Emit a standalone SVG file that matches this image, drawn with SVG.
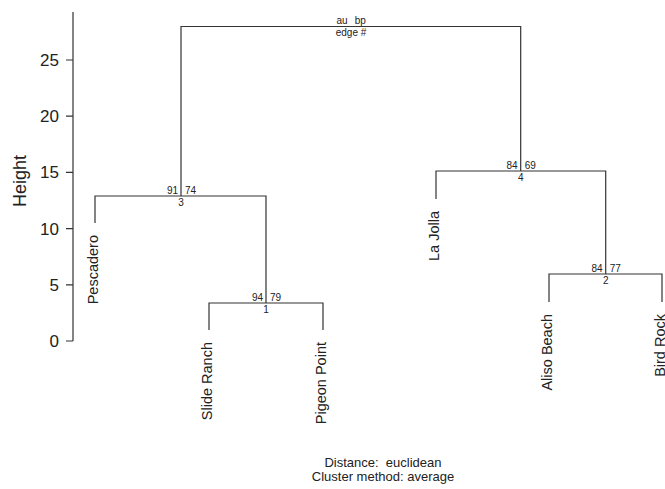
<svg xmlns="http://www.w3.org/2000/svg" width="665" height="489" viewBox="0 0 665 489">
<style>
.ln{stroke:#333;stroke-width:1.2;fill:none}
text{font-family:"Liberation Sans",Arial,sans-serif;fill:#222}
.tk{font-size:17px;text-anchor:end}
.lf{font-size:14.5px;text-anchor:end}
.nm{font-size:10px}
.ft{font-size:13px;text-anchor:middle;white-space:pre}
</style>
<rect width="665" height="489" fill="#fff"/>
<g id="axis">
<path class="ln" d="M73,12V341M66,341H73M66,284.8H73M66,228.6H73M66,172.4H73M66,116.2H73M66,60H73"/>
<text class="tk" x="59" y="347">0</text>
<text class="tk" x="59" y="290.8">5</text>
<text class="tk" x="59" y="234.6">10</text>
<text class="tk" x="59" y="178.4">15</text>
<text class="tk" x="59" y="122.2">20</text>
<text class="tk" x="59" y="66">25</text>
<text x="26" y="181" transform="rotate(-90 26 181)" style="font-size:18px;text-anchor:middle">Height</text>
</g>
<g id="connectors">
<path class="ln" d="M181,196V26.5H520.7V171"/>
<path class="ln" d="M95,223V196H266V303"/>
<path class="ln" d="M209,330V303H323V330"/>
<path class="ln" d="M436,199V171H605.7V274"/>
<path class="ln" d="M549,302V274H662V302"/>
</g>
<g id="edge-top">
<text class="nm" x="347.7" y="24" text-anchor="end">au</text>
<text class="nm" x="354.7" y="24">bp</text>
<text class="nm" x="351" y="36" text-anchor="middle">edge #</text>
</g>
<g id="edge3">
<text class="nm" x="178" y="194" text-anchor="end">91</text>
<text class="nm" x="185" y="194">74</text>
<text class="nm" x="181" y="206" text-anchor="middle">3</text>
</g>
<g id="edge1">
<text class="nm" x="263" y="301" text-anchor="end">94</text>
<text class="nm" x="270" y="301">79</text>
<text class="nm" x="266" y="313" text-anchor="middle">1</text>
</g>
<g id="edge4">
<text class="nm" x="517.7" y="169" text-anchor="end">84</text>
<text class="nm" x="524.7" y="169">69</text>
<text class="nm" x="520.7" y="181" text-anchor="middle">4</text>
</g>
<g id="edge2">
<text class="nm" x="602.7" y="272" text-anchor="end">84</text>
<text class="nm" x="609.7" y="272">77</text>
<text class="nm" x="605.7" y="284" text-anchor="middle">2</text>
</g>
<g id="leaf-pescadero"><text class="lf" x="98" y="235" transform="rotate(-90 98 235)">Pescadero</text></g>
<g id="leaf-slide-ranch"><text class="lf" x="212" y="342" transform="rotate(-90 212 342)">Slide Ranch</text></g>
<g id="leaf-pigeon-point"><text class="lf" x="326" y="342" transform="rotate(-90 326 342)">Pigeon Point</text></g>
<g id="leaf-la-jolla"><text class="lf" x="439" y="211" transform="rotate(-90 439 211)">La Jolla</text></g>
<g id="leaf-aliso-beach"><text class="lf" x="552" y="314" transform="rotate(-90 552 314)">Aliso Beach</text></g>
<g id="leaf-bird-rock"><text class="lf" x="665" y="314" transform="rotate(-90 665 314)">Bird Rock</text></g>
<g id="footer">
<text class="ft" x="383" y="467">Distance:  euclidean</text>
<text class="ft" x="383" y="481">Cluster method: average</text>
</g>
</svg>
